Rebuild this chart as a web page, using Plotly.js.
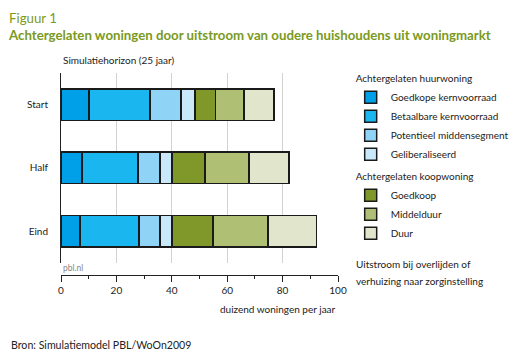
<!DOCTYPE html>
<html>
<head>
<meta charset="utf-8">
<script src="https://cdn.plot.ly/plotly-3.0.1.min.js"></script>
<style>html,body{margin:0;padding:0;background:#fff;}#chart{width:513px;height:359px;}</style>
</head>
<body>
<div id="chart"></div>
<script>
var categories = ['Start', 'Half', 'Eind'];
var seriesNames = ['Goedkope kernvoorraad', 'Betaalbare kernvoorraad', 'Potentieel middensegment', 'Geliberaliseerd', 'Goedkoop', 'Middelduur', 'Duur'];
var goedkopeKern = [10.1, 7.6, 6.9];
var betaalbareKern = [22.0, 20.2, 21.3];
var potentieelMidden = [11.2, 7.9, 7.5];
var geliberaliseerd = [5.1, 4.4, 4.4];
var goedkoop = [7.3, 11.9, 14.8];
var middelduur = [10.4, 15.9, 19.8];
var duur = [10.8, 14.4, 17.5];
var xTicks = [0, 20, 40, 60, 80, 100];

var seriesValues = [goedkopeKern, betaalbareKern, potentieelMidden, geliberaliseerd, goedkoop, middelduur, duur];
var colors = ['#00a0e9', '#1ab6f0', '#8fd3f7', '#c9e8fa', '#80982a', '#afc075', '#e1e5cb'];
var groups = ['huur', 'huur', 'huur', 'huur', 'koop', 'koop', 'koop'];
var groupTitles = {huur: 'Achtergelaten huurwoning', koop: 'Achtergelaten koopwoning'};

var FONT = 'Lato, "Noto Sans", sans-serif';
var FS = 10;
var traces = seriesValues.map(function (vals, i) {
  return {
    type: 'bar',
    orientation: 'h',
    name: seriesNames[i],
    y: categories,
    x: vals,
    width: 0.5,
    legendgroup: groups[i],
    legendgrouptitle: {text: groupTitles[groups[i]], font: {family: FONT, size: FS, color: '#222'}},
    marker: {color: colors[i], line: {color: '#1a1a1a', width: 1.5}},
    hoverinfo: 'name+x'
  };
});

// paper: top 73.3px, bottom 275.3px (height 202), left 61px, width 277.3
var H = 202, B = 275.3, L = 61, W = 277.3;
function py(px) { return (B - px) / H; }
function pxx(px) { return (px - L) / W; }

var layout = {
  width: 513, height: 359,
  margin: {l: 61, r: 513 - 338.3, t: 73.3, b: 359 - 275.3, pad: 0, autoexpand: false},
  paper_bgcolor: '#fff', plot_bgcolor: '#fff',
  font: {family: FONT, size: FS, color: '#222'},
  title: {
    text: 'Figuur 1<br><b>Achtergelaten woningen door uitstroom van oudere huishoudens uit woningmarkt</b>',
    x: 9 / 513, xanchor: 'left', xref: 'container',
    y: 1 - 22.5 / 359, yanchor: 'top', yref: 'container',
    font: {family: FONT, size: 13.25, color: '#7a9a22'}
  },
  barmode: 'stack',
  showlegend: true,
  legend: {
    x: pxx(351), xanchor: 'left', y: py(64), yanchor: 'top',
    traceorder: 'grouped', tracegroupgap: 3,
    itemwidth: 30, font: {family: FONT, size: FS, color: '#222'},
    bgcolor: 'rgba(0,0,0,0)'
  },
  xaxis: {
    range: [0, 100], tickvals: xTicks, ticktext: xTicks.map(String),
    anchor: 'free', position: 0,
    showgrid: true, gridcolor: '#d2d2d2', gridwidth: 1,
    showline: true, linecolor: '#222', linewidth: 1,
    ticks: 'outside', ticklen: 6, tickcolor: '#222', tickwidth: 1,
    minor: {dtick: 10, tick0: 0, ticks: 'outside', ticklen: 3, tickcolor: '#222', showgrid: false},
    zeroline: false, fixedrange: true,
    tickfont: {family: FONT, size: FS, color: '#222'}
  },
  yaxis: {
    domain: [py(263), 1],
    type: 'category', categoryorder: 'array', categoryarray: categories,
    range: [2.5, -0.5],
    showgrid: false, zeroline: false,
    showline: true, linecolor: '#222', linewidth: 1,
    ticks: '', ticklabelstandoff: 10,
    tickfont: {family: FONT, size: FS, color: '#222'}, fixedrange: true
  },
  annotations: [
    {text: 'Simulatiehorizon (25 jaar)', xref: 'paper', yref: 'paper', x: 0, y: py(60), xanchor: 'left', yanchor: 'middle', showarrow: false, font: {family: FONT, size: FS, color: '#222'}},
    {text: 'pbl.nl', xref: 'paper', yref: 'paper', x: 0, y: py(268), xanchor: 'left', yanchor: 'middle', showarrow: false, font: {family: FONT, size: 8.5, color: '#888'}},
    {text: 'duizend woningen per jaar', xref: 'paper', yref: 'paper', x: 1, y: py(309), xanchor: 'right', yanchor: 'middle', showarrow: false, font: {family: FONT, size: FS, color: '#222'}},
    {text: 'Uitstroom bij overlijden of', xref: 'paper', yref: 'paper', x: pxx(354), y: py(264), xanchor: 'left', yanchor: 'middle', showarrow: false, font: {family: FONT, size: FS, color: '#222'}},
    {text: 'verhuizing naar zorginstelling', xref: 'paper', yref: 'paper', x: pxx(354), y: py(281), xanchor: 'left', yanchor: 'middle', showarrow: false, font: {family: FONT, size: FS, color: '#222'}},
    {text: 'Bron: Simulatiemodel PBL/WoOn2009', xref: 'paper', yref: 'paper', x: pxx(9), y: py(345), xanchor: 'left', yanchor: 'middle', showarrow: false, font: {family: FONT, size: 10.6, color: '#222'}}
  ]
};

Plotly.newPlot('chart', traces, layout, {displayModeBar: false, staticPlot: true});
</script>
</body>
</html>
